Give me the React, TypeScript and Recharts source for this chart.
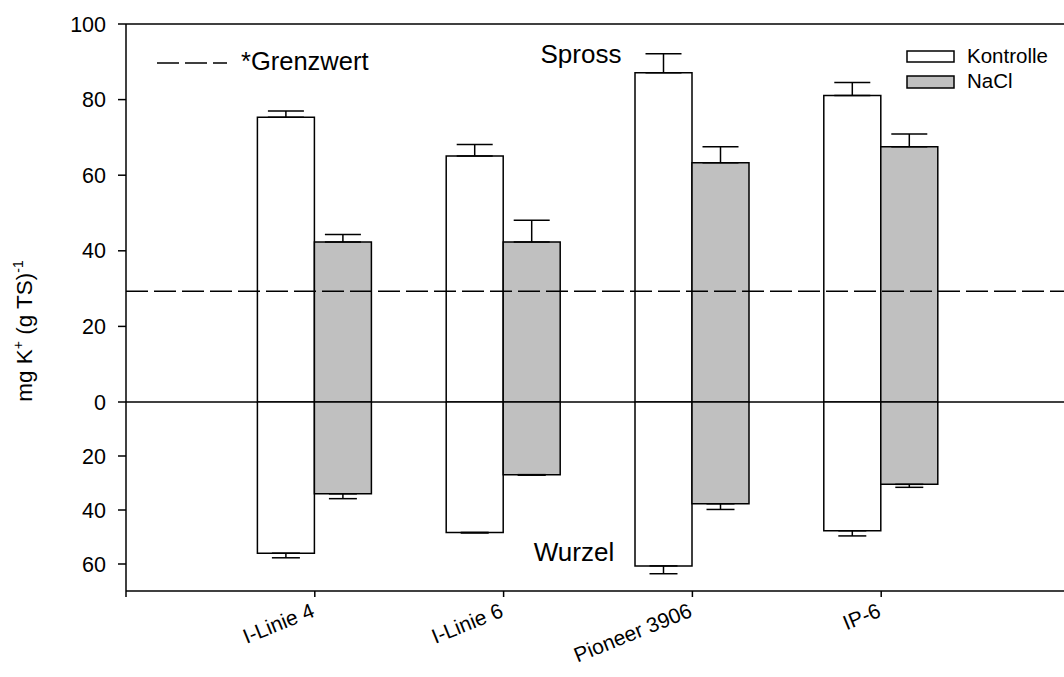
import React from 'react'
import { BarChart, Bar, XAxis, YAxis, ErrorBar, ReferenceLine } from 'recharts'

const categories = ['I-Linie 4', 'I-Linie 6', 'Pioneer 3906', 'IP-6']
const positions = [1, 2, 3, 4]

// Spross (shoot), mg K+ per g TS
const sprossKontrolle = [75.3, 65.1, 87.1, 81.1]
const sprossKontrolleErr = [1.7, 3.0, 5.0, 3.4]
const sprossNaCl = [42.3, 42.3, 63.3, 67.5]
const sprossNaClErr = [2.0, 5.8, 4.2, 3.4]

// Wurzel (root)
const wurzelKontrolle = [56.0, 48.3, 60.7, 47.7]
const wurzelKontrolleErr = [1.7, 0.2, 2.9, 1.9]
const wurzelNaCl = [34.0, 26.9, 37.7, 30.5]
const wurzelNaClErr = [1.8, 0.2, 2.1, 1.1]

const grenzwert = 29.3
const sprossTicks = [0, 20, 40, 60, 80, 100]
const wurzelTicks = [20, 40, 60]
const xTicks = [0, 1, 2, 3, 4, 5]
const seriesNames = ['Kontrolle', 'NaCl']

const FONT = "Arial, 'Liberation Sans', sans-serif"
const GRAY = '#c0c0c0'

const sprossData = positions.map((x, i) => ({
  x,
  kontrolle: sprossKontrolle[i],
  kontrolleErr: [0, sprossKontrolleErr[i]],
  nacl: sprossNaCl[i],
  naclErr: [0, sprossNaClErr[i]],
}))

const wurzelData = positions.map((x, i) => ({
  x,
  kontrolle: wurzelKontrolle[i],
  kontrolleErr: [0, wurzelKontrolleErr[i]],
  nacl: wurzelNaCl[i],
  naclErr: [0, wurzelNaClErr[i]],
}))

const CategoryTick = (props: any) => {
  const { x, y, payload } = props
  const label = categories[payload.value - 1]
  if (!label) return null
  return (
    <g transform={`translate(${x + 1},${y + 17})`}>
      <text textAnchor="end" transform="rotate(-22)" fontSize={21} fill="#000" fontFamily={FONT}>
        {label}
      </text>
    </g>
  )
}

const yTickStyle = { fontSize: 21.5, fill: '#000', fontFamily: FONT }

export default function App() {
  return (
    <div style={{ position: 'absolute', left: 0, top: 0, width: 1064, height: 677, overflow: 'hidden', background: '#fff' }}>
      <div style={{ position: 'absolute', left: 0, top: 0 }}>
        <BarChart width={1100} height={422} data={sprossData} margin={{ top: 24, right: 30, bottom: 20, left: 0 }} barGap={0} barSize={57}>
          <XAxis type="number" dataKey="x" domain={[0, 5]} ticks={xTicks} hide />
          <YAxis
            type="number"
            domain={[0, 100]}
            ticks={sprossTicks}
            interval={0}
            width={126}
            tickSize={8}
            tickMargin={12}
            tick={yTickStyle}
            stroke="#000"
            strokeWidth={1.5}
          />
          <ReferenceLine y={100} stroke="#000" strokeWidth={1.5} />
          <ReferenceLine y={grenzwert} stroke="#000" strokeWidth={1.5} strokeDasharray="22 6" />
          <Bar dataKey="kontrolle" fill="#fff" stroke="#000" strokeWidth={1.5} isAnimationActive={false}>
            <ErrorBar dataKey="kontrolleErr" width={18} stroke="#000" strokeWidth={1.5} direction="y" />
          </Bar>
          <Bar dataKey="nacl" fill={GRAY} stroke="#000" strokeWidth={1.5} isAnimationActive={false}>
            <ErrorBar dataKey="naclErr" width={18} stroke="#000" strokeWidth={1.5} direction="y" />
          </Bar>
          <ReferenceLine y={0} stroke="#000" strokeWidth={1.5} />
        </BarChart>
      </div>
      <div style={{ position: 'absolute', left: 0, top: 402 }}>
        <BarChart width={1100} height={275} data={wurzelData} margin={{ top: 0, right: 30, bottom: 0, left: 0 }} barGap={0} barSize={57}>
          <XAxis
            type="number"
            dataKey="x"
            domain={[0, 5]}
            ticks={xTicks}
            height={86}
            tickSize={6}
            tickMargin={2}
            tick={<CategoryTick />}
            stroke="#000"
            strokeWidth={1.5}
            interval={0}
          />
          <YAxis
            type="number"
            reversed
            domain={[0, 70]}
            ticks={wurzelTicks}
            interval={0}
            width={126}
            tickSize={8}
            tickMargin={12}
            tick={yTickStyle}
            stroke="#000"
            strokeWidth={1.5}
          />
          <Bar dataKey="kontrolle" fill="#fff" stroke="#000" strokeWidth={1.5} isAnimationActive={false}>
            <ErrorBar dataKey="kontrolleErr" width={14} stroke="#000" strokeWidth={1.5} direction="y" />
          </Bar>
          <Bar dataKey="nacl" fill={GRAY} stroke="#000" strokeWidth={1.5} isAnimationActive={false}>
            <ErrorBar dataKey="naclErr" width={14} stroke="#000" strokeWidth={1.5} direction="y" />
          </Bar>
        </BarChart>
      </div>
      <svg width={1064} height={677} style={{ position: 'absolute', left: 0, top: 0, pointerEvents: 'none' }} fontFamily={FONT}>
        <line x1={157} y1={63} x2={227} y2={63} stroke="#000" strokeWidth={1.5} strokeDasharray="22 6" />
        <text x={241} y={70} fontSize={25.5} fill="#000">*Grenzwert</text>
        <text x={581} y={63} fontSize={26} fill="#000" textAnchor="middle">Spross</text>
        <text x={574} y={561} fontSize={26} fill="#000" textAnchor="middle">Wurzel</text>
        <rect x={907} y={51} width={47} height={11} fill="#fff" stroke="#000" strokeWidth={1.5} />
        <text x={967} y={63} fontSize={20.5} fill="#000">{seriesNames[0]}</text>
        <rect x={907} y={76} width={47} height={12} fill={GRAY} stroke="#000" strokeWidth={1.5} />
        <text x={967} y={88} fontSize={20.5} fill="#000">{seriesNames[1]}</text>
        <text transform="translate(32,331) rotate(-90)" textAnchor="middle" fontSize={22.5} fill="#000">
          mg K<tspan dy={-9} fontSize={14}>+</tspan>
          <tspan dy={9}> (g TS)</tspan>
          <tspan dy={-9} fontSize={14}>-1</tspan>
        </text>
      </svg>
    </div>
  )
}
